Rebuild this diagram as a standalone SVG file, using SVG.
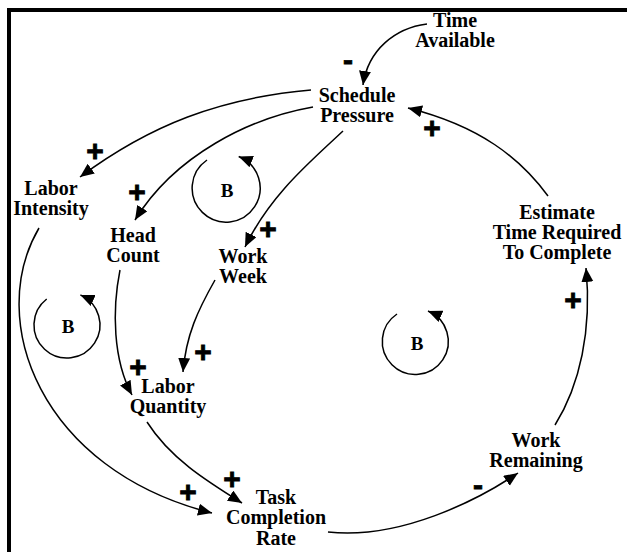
<svg xmlns="http://www.w3.org/2000/svg" width="627" height="552" viewBox="0 0 627 552">
<style>
.t{font-family:"Liberation Serif","Times New Roman",serif;font-weight:bold;font-size:20px;text-anchor:middle;fill:#000}
.b{font-family:"Liberation Serif","Times New Roman",serif;font-weight:bold;font-size:19px;text-anchor:middle;fill:#000}
.p{font-family:"Liberation Sans",Arial,sans-serif;font-weight:bold;font-size:30px;text-anchor:middle;fill:#000;stroke:#000;stroke-width:0.8}
.c{fill:none;stroke:#000;stroke-width:1.5}
</style>
<defs>
<marker id="ah" markerUnits="userSpaceOnUse" markerWidth="16" markerHeight="13" refX="14" refY="6" orient="auto">
<path d="M0,0 L14,6 L0,12 z" fill="#000"/>
</marker>
</defs>
<rect x="0" y="0" width="627" height="552" fill="#fff"/>
<path d="M9,552 V10 H627" fill="none" stroke="#000" stroke-width="4"/>

<g id="connectors">
<path class="c" marker-end="url(#ah)" d="M427,24 C395,28 368,50 363,85"/>
<path class="c" marker-end="url(#ah)" d="M548,196 C520,158 480,126 408,108"/>
<path class="c" marker-end="url(#ah)" d="M311,90 C220,98 150,125 80,177"/>
<path class="c" marker-end="url(#ah)" d="M313,107 C250,118 175,155 135,220"/>
<path class="c" marker-end="url(#ah)" d="M343,131 C310,162 270,195 245,247"/>
<path class="c" marker-end="url(#ah)" d="M120,270 C112,310 113,360 132,395"/>
<path class="c" marker-end="url(#ah)" d="M215,280 C198,310 186,335 183,372"/>
<path class="c" marker-end="url(#ah)" d="M147,422 C170,458 205,480 242,503"/>
<path class="c" marker-end="url(#ah)" d="M39,228 C-15,320 40,470 212,513"/>
<path class="c" marker-end="url(#ah)" d="M328,532 C400,540 478,500 518,473"/>
<path class="c" marker-end="url(#ah)" d="M555,425 C580,385 592,330 586,268"/>
</g>

<g id="loop1">
<path class="c" marker-end="url(#ah)" d="M207,160 A34,34 0 1 0 238.7,156.5"/>
<text class="b" x="227" y="197">B</text>
</g>
<g id="loop2">
<path class="c" marker-end="url(#ah)" d="M46.7,299 A33,33 0 1 0 80.4,294.9"/>
<text class="b" x="68" y="333">B</text>
</g>
<g id="loop3">
<path class="c" marker-end="url(#ah)" d="M397,314 A33,33 0 1 0 428,311"/>
<text class="b" x="417" y="350">B</text>
</g>

<g id="time-available"><text class="t" x="455" y="27">Time</text><text class="t" x="455" y="47">Available</text></g>
<g id="schedule-pressure"><text class="t" x="357" y="102">Schedule</text><text class="t" x="357" y="122">Pressure</text></g>
<g id="labor-intensity"><text class="t" x="51" y="195">Labor</text><text class="t" x="51" y="215">Intensity</text></g>
<g id="head-count"><text class="t" x="133" y="242">Head</text><text class="t" x="133" y="262">Count</text></g>
<g id="work-week"><text class="t" x="243" y="263">Work</text><text class="t" x="243" y="283">Week</text></g>
<g id="labor-quantity"><text class="t" x="168" y="393">Labor</text><text class="t" x="168" y="413">Quantity</text></g>
<g id="task-completion-rate"><text class="t" x="276" y="504">Task</text><text class="t" x="276" y="524">Completion</text><text class="t" x="276" y="545">Rate</text></g>
<g id="work-remaining"><text class="t" x="536" y="447">Work</text><text class="t" x="536" y="467">Remaining</text></g>
<g id="estimate-time"><text class="t" x="557" y="219">Estimate</text><text class="t" x="557" y="239">Time Required</text><text class="t" x="557" y="259">To Complete</text></g>

<g id="polarities">
<text class="p" x="348" y="70">-</text>
<text class="p" x="432" y="138">+</text>
<text class="p" x="95" y="161">+</text>
<text class="p" x="137" y="202">+</text>
<text class="p" x="268" y="239">+</text>
<text class="p" x="138" y="377">+</text>
<text class="p" x="203" y="362">+</text>
<text class="p" x="232" y="489">+</text>
<text class="p" x="188" y="502">+</text>
<text class="p" x="478" y="495">-</text>
<text class="p" x="573" y="310">+</text>
</g>
</svg>
